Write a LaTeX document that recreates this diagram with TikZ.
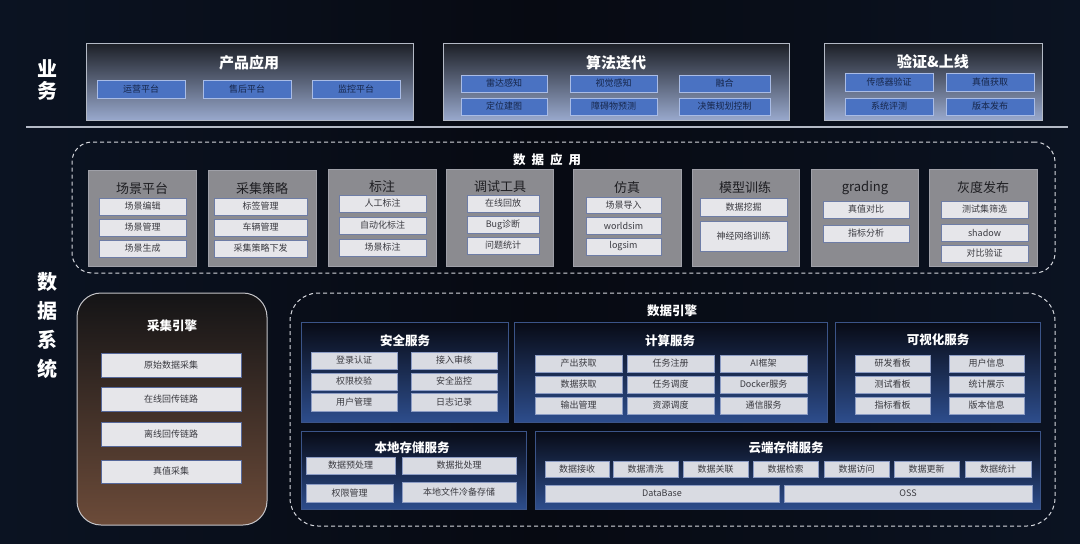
\documentclass[tikz,border=0pt]{standalone}
\usepackage{fontspec}
\setmainfont{Noto Sans CJK SC}
\usetikzlibrary{positioning}
\definecolor{bgc}{HTML}{070A12}
\definecolor{bgnavy}{HTML}{0B1322}
\definecolor{topborder}{HTML}{B4BAC6}
\definecolor{topdark}{HTML}{1C1F26}
\definecolor{toplight}{HTML}{98A8CC}
\definecolor{topsubfill}{HTML}{4A72C2}
\definecolor{topsubborder}{HTML}{A9BCE6}
\definecolor{topsubtext}{HTML}{16264A}
\definecolor{appgray}{HTML}{8B8B90}
\definecolor{appborder}{HTML}{9FA0A8}
\definecolor{appsubfill}{HTML}{E6E6EA}
\definecolor{appsubborder}{HTML}{6E7DA6}
\definecolor{apptext}{HTML}{1E1E22}
\definecolor{subtext}{HTML}{3A3A40}
\definecolor{dashc}{HTML}{D6D8DE}
\definecolor{engtop}{HTML}{141416}
\definecolor{engbot}{HTML}{6C4B39}
\definecolor{engborder}{HTML}{C4C4C8}
\definecolor{engsubborder}{HTML}{56689A}
\definecolor{svctop}{HTML}{080B16}
\definecolor{svcbot}{HTML}{2D4D8C}
\definecolor{svcborder}{HTML}{3B5488}
\definecolor{svcsubfill}{HTML}{D9DBE2}
\definecolor{svcsubborder}{HTML}{8C9CC4}
\tikzset{
  base/.style={inner sep=0pt, outer sep=0pt, line width=0.8pt},
  topbox/.style={base, draw=topborder, top color=topdark, bottom color=toplight},
  topsub/.style={base, draw=topsubborder, fill=topsubfill, text=topsubtext, font=\fontsize{9}{9}\selectfont},
  appbox/.style={base, draw=appborder, fill=appgray},
  appsub/.style={base, draw=appsubborder, fill=appsubfill, text=subtext, font=\fontsize{9}{9}\selectfont},
  dashbox/.style={base, draw=dashc, line width=1pt, dash pattern=on 4pt off 3pt},
  engbox/.style={base, draw=engborder, line width=1pt, rounded corners=24pt, top color=engtop, bottom color=engbot},
  engsub/.style={base, draw=engsubborder, fill=appsubfill, text=subtext, font=\fontsize{9}{9}\selectfont},
  svcbox/.style={base, draw=svcborder, top color=svctop, bottom color=svcbot},
  svcsub/.style={base, draw=svcsubborder, fill=svcsubfill, text=subtext, font=\fontsize{9}{9}\selectfont},
  whitetitle/.style={text=white, font=\fontsize{12.5}{12.5}\selectfont\bfseries, inner sep=0pt},
  toptitle/.style={text=white, font=\fontsize{15}{15}\selectfont\bfseries, inner sep=0pt},
  apptitle/.style={text=apptext, font=\fontsize{13}{13}\selectfont, inner sep=0pt},
  sidelabel/.style={text=white, font=\fontsize{20}{22}\selectfont\bfseries, align=center, inner sep=0pt},
}
\newcommand{\bx}[7]{\node[#6, minimum width={#4-#2}, minimum height={#5-#3}] (#1) at ({(#2+#4)/2},{(#3+#5)/2}) {#7};}
\begin{document}
\begin{tikzpicture}[x=1pt,y=-1pt]
\fill[bgc] (0,0) rectangle (1080,544);
\shade[left color=bgnavy, right color=bgc] (0,0) rectangle (540,544);
\shade[left color=bgc, right color=bgnavy] (540,0) rectangle (1080,544);
\useasboundingbox (0,0) rectangle (1080,544);

% side labels
\node[sidelabel] (lblyw) at (47,80) {业\\务};
\node[sidelabel, font=\fontsize{20}{29}\selectfont\bfseries] (lblsj) at (47,325) {数\\据\\系\\统};

% separator
\coordinate (sepL) at (26,127);
\coordinate (sepR) at (1068,127);
\draw[line width=1.6pt, draw=topborder] (sepL) -- (sepR);

% ===== top row =====
\bx{cpyy}{86}{43}{413}{120}{topbox}{}
\node[toptitle] (cpyyT) at (249,63) {产品应用};
\bx{yypt}{97}{80}{185}{98}{topsub}{运营平台}
\bx{shpt}{203}{80}{291}{98}{topsub}{售后平台}
\bx{jkpt}{312}{80}{400}{98}{topsub}{监控平台}

\bx{sfdd}{443}{43}{789}{120}{topbox}{}
\node[toptitle] (sfddT) at (616,63) {算法迭代};
\bx{ldgz}{461}{75}{547}{92}{topsub}{雷达感知}
\bx{dwjt}{461}{98}{547}{115}{topsub}{定位建图}
\bx{sjgz}{570}{75}{657}{92}{topsub}{视觉感知}
\bx{zawy}{570}{98}{657}{115}{topsub}{障碍物预测}
\bx{rh}{679}{75}{770}{92}{topsub}{融合}
\bx{jcgh}{679}{98}{770}{115}{topsub}{决策规划控制}

\bx{yzsx}{824}{43}{1042}{120}{topbox}{}
\node[toptitle] (yzsxT) at (933,62) {验证\&上线};
\bx{cgqyz}{845}{73}{933}{91}{topsub}{传感器验证}
\bx{zzhq}{946}{73}{1034}{91}{topsub}{真值获取}
\bx{xtpc}{845}{98}{933}{115}{topsub}{系统评测}
\bx{bbfb}{946}{98}{1034}{115}{topsub}{版本发布}

% ===== data application =====
\bx{sjyy}{72}{142}{1055}{273}{dashbox, rounded corners=20pt}{}
\node[whitetitle] (sjyyT) at (547,160) {数\hspace{6pt}据\hspace{6pt}应\hspace{6pt}用};

\bx{cjpt}{88}{170}{196}{266}{appbox}{}
\node[apptitle] (cjptT) at (142,189) {场景平台};
\bx{cjbj}{99}{198}{186}{215}{appsub}{场景编辑}
\bx{cjgl}{99}{219}{186}{236}{appsub}{场景管理}
\bx{cjsc}{99}{240}{186}{257}{appsub}{场景生成}

\bx{cjcl}{208}{170}{316}{266}{appbox}{}
\node[apptitle] (cjclT) at (262,189) {采集策略};
\bx{bqgl}{214}{198}{307}{215}{appsub}{标签管理}
\bx{clgl}{214}{219}{307}{236}{appsub}{车辆管理}
\bx{cjclxf}{214}{240}{307}{257}{appsub}{采集策略下发}

\bx{bz}{328}{169}{436}{266}{appbox}{}
\node[apptitle] (bzT) at (382,187) {标注};
\bx{rgbz}{339}{195}{426}{212}{appsub}{人工标注}
\bx{zdhbz}{339}{217}{426}{234}{appsub}{自动化标注}
\bx{cjbz}{339}{239}{426}{256}{appsub}{场景标注}

\bx{tsgj}{446}{169}{553}{266}{appbox}{}
\node[apptitle] (tsgjT) at (500,187) {调试工具};
\bx{zxhf}{467}{195}{539}{212}{appsub}{在线回放}
\bx{bugzd}{467}{216}{539}{233}{appsub}{Bug诊断}
\bx{wttj}{467}{237}{539}{254}{appsub}{问题统计}

\bx{fz}{573}{169}{681}{266}{appbox}{}
\node[apptitle] (fzT) at (627,188) {仿真};
\bx{cjdr}{586}{197}{661}{213}{appsub}{场景导入}
\bx{wsim}{586}{217}{661}{234}{appsub}{worldsim}
\bx{lsim}{586}{238}{661}{255}{appsub}{logsim}

\bx{mxxl}{692}{169}{799}{266}{appbox}{}
\node[apptitle] (mxxlT) at (745,188) {模型训练};
\bx{sjwj}{700}{198}{787}{216}{appsub}{数据挖掘}
\bx{sjwl}{700}{221}{787}{251}{appsub}{神经网络训练}

\bx{grd}{811}{169}{918}{266}{appbox}{}
\node[apptitle] (grdT) at (865,188) {grading};
\bx{zzdb}{823}{201}{909}{218}{appsub}{真值对比}
\bx{zbfx}{823}{225}{909}{242}{appsub}{指标分析}

\bx{hdfb}{929}{169}{1037}{266}{appbox}{}
\node[apptitle] (hdfbT) at (983,188) {灰度发布};
\bx{csjsx}{941}{201}{1028}{218}{appsub}{测试集筛选}
\bx{shd}{941}{224}{1028}{241}{appsub}{shadow}
\bx{dbyz}{941}{245}{1028}{262}{appsub}{对比验证}

% ===== sampling engine =====
\bx{cjyq}{77}{293}{267}{525}{engbox}{}
\node[whitetitle] (cjyqT) at (172,326) {采集引擎};
\bx{ysjcj}{101}{353}{241}{377}{engsub}{原始数据采集}
\bx{zxhc}{101}{387}{241}{411}{engsub}{在线回传链路}
\bx{lxhc}{101}{422}{241}{446}{engsub}{离线回传链路}
\bx{zzcj}{101}{460}{241}{483}{engsub}{真值采集}

% ===== data engine =====
\bx{sjyq}{290}{293}{1055}{526}{dashbox, rounded corners=28pt}{}
\node[whitetitle] (sjyqT) at (672,311) {数据引擎};

\bx{aqfw}{301}{322}{508}{422}{svcbox}{}
\node[whitetitle] (aqfwT) at (405,341) {安全服务};
\bx{dlrz}{311}{352}{397}{369}{svcsub}{登录认证}
\bx{qxjy}{311}{373}{397}{390}{svcsub}{权限校验}
\bx{yhgl}{311}{393}{397}{411}{svcsub}{用户管理}
\bx{jrsh}{411}{352}{497}{369}{svcsub}{接入审核}
\bx{aqjk}{411}{373}{497}{390}{svcsub}{安全监控}
\bx{rzjl}{411}{393}{497}{411}{svcsub}{日志记录}

\bx{jsfw}{514}{322}{827}{422}{svcbox}{}
\node[whitetitle] (jsfwT) at (670,341) {计算服务};
\bx{cchq}{535}{355}{622}{372}{svcsub}{产出获取}
\bx{sjhq}{535}{376}{622}{393}{svcsub}{数据获取}
\bx{scgl}{535}{397}{622}{414}{svcsub}{输出管理}
\bx{rwzc}{627}{355}{714}{372}{svcsub}{任务注册}
\bx{rwdd}{627}{376}{714}{393}{svcsub}{任务调度}
\bx{zydd}{627}{397}{714}{414}{svcsub}{资源调度}
\bx{aikj}{720}{355}{807}{372}{svcsub}{AI框架}
\bx{dock}{720}{376}{807}{393}{svcsub}{Docker服务}
\bx{txfw}{720}{397}{807}{414}{svcsub}{通信服务}

\bx{kshfw}{835}{322}{1040}{422}{svcbox}{}
\node[whitetitle] (kshfwT) at (938,340) {可视化服务};
\bx{yfkb}{855}{355}{930}{372}{svcsub}{研发看板}
\bx{cskb}{855}{376}{930}{393}{svcsub}{测试看板}
\bx{zbkb}{855}{397}{930}{414}{svcsub}{指标看板}
\bx{yhxx}{949}{355}{1024}{372}{svcsub}{用户信息}
\bx{tjzs}{949}{376}{1024}{393}{svcsub}{统计展示}
\bx{bbxx}{949}{397}{1024}{414}{svcsub}{版本信息}

\bx{bdcc}{301}{431}{526}{509}{svcbox}{}
\node[whitetitle] (bdccT) at (412,448) {本地存储服务};
\bx{sjycl}{306}{457}{395}{474}{svcsub}{数据预处理}
\bx{sjpcl}{402}{457}{516}{474}{svcsub}{数据批处理}
\bx{qxgl}{306}{484}{393}{502}{svcsub}{权限管理}
\bx{bdwj}{402}{482}{516}{502}{svcsub}{本地文件冷备存储}

\bx{ydcc}{535}{431}{1040}{509}{svcbox}{}
\node[whitetitle] (ydccT) at (786,448) {云端存储服务};
\bx{sjjs}{545}{461}{609}{477}{svcsub}{数据接收}
\bx{sjqx}{613}{461}{678}{477}{svcsub}{数据清洗}
\bx{sjgl}{683}{461}{748}{477}{svcsub}{数据关联}
\bx{sjjsu}{753}{461}{818}{477}{svcsub}{数据检索}
\bx{sjfw}{824}{461}{889}{477}{svcsub}{数据访问}
\bx{sjgx}{894}{461}{959}{477}{svcsub}{数据更新}
\bx{sjtj}{965}{461}{1031}{477}{svcsub}{数据统计}
\bx{db}{545}{485}{779}{502}{svcsub}{DataBase}
\bx{oss}{784}{485}{1032}{502}{svcsub}{OSS}
\end{tikzpicture}
\end{document}
